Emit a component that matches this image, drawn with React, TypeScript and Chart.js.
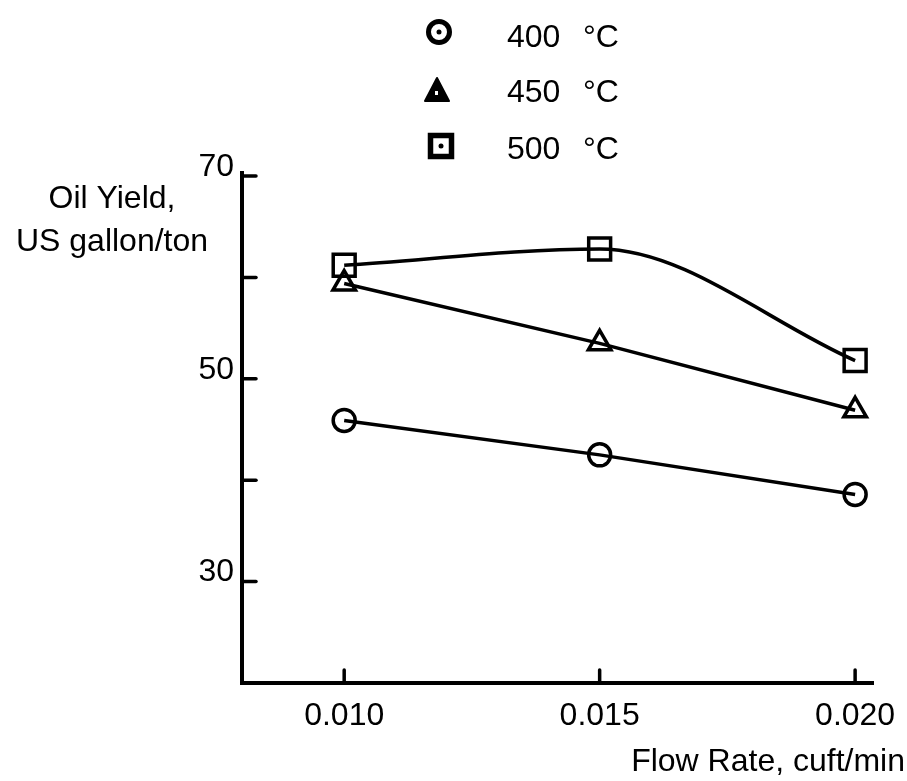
import React, { useEffect, useRef } from "react";
import { Chart, registerables } from "chart.js";

Chart.register(...registerables);

const flowRates = [0.01, 0.015, 0.02];
const yield400 = [45.9, 42.5, 38.6];
const yield450 = [59.4, 53.5, 46.9];
const yield500 = [61.2, 62.8, 51.8];
const seriesLabels = ["400", "450", "500"];
const xTickValues = [0.01, 0.015, 0.02];
const xTickLabels = ["0.010", "0.015", "0.020"];
const yTickValues = [30, 40, 50, 60, 70];
const yLabeledTicks = [30, 50, 70];
const xTitle = "Flow Rate, cuft/min";
const yTitleLines = ["Oil Yield,", "US gallon/ton"];

const FONT = "'Liberation Sans', Arial, sans-serif";
const FS = 32;
const INK = "#000";

const toPoints = (ys: number[]) => flowRates.map((x, i) => ({ x, y: ys[i] }));

const decorPlugin = {
  id: "decor",
  afterDraw(chart: any) {
    const { ctx, scales, chartArea } = chart;
    const xs = scales.x;
    const ys = scales.y;
    ctx.save();
    ctx.strokeStyle = INK;
    ctx.fillStyle = INK;
    ctx.lineWidth = 3.5;
    ctx.lineCap = "round";
    yTickValues.forEach((v) => {
      const py = ys.getPixelForValue(v);
      ctx.beginPath();
      ctx.moveTo(chartArea.left, py);
      ctx.lineTo(chartArea.left + 14, py);
      ctx.stroke();
    });
    xTickValues.forEach((v) => {
      const px = xs.getPixelForValue(v);
      ctx.beginPath();
      ctx.moveTo(px, chartArea.bottom);
      ctx.lineTo(px, chartArea.bottom - 13);
      ctx.stroke();
    });
    ctx.font = `${FS}px ${FONT}`;
    ctx.textAlign = "center";
    ctx.textBaseline = "alphabetic";
    ctx.fillText(yTitleLines[0], 112, 208);
    ctx.fillText(yTitleLines[1], 112, 251);
    ctx.textAlign = "right";
    ctx.fillText(xTitle, 905, 771);

    const rows = [
      { y: 32, x: 439 },
      { y: 90, x: 437 },
      { y: 146, x: 441 },
    ];
    const baselines = [47, 102, 159];
    rows.forEach((r, i) => {
      ctx.lineWidth = 5;
      ctx.lineCap = "butt";
      if (i === 0) {
        ctx.beginPath();
        ctx.arc(r.x, r.y, 10.5, 0, Math.PI * 2);
        ctx.stroke();
        ctx.beginPath();
        ctx.arc(r.x, r.y, 2.5, 0, Math.PI * 2);
        ctx.fill();
      } else if (i === 1) {
        ctx.beginPath();
        ctx.moveTo(r.x, r.y - 12);
        ctx.lineTo(r.x + 12, r.y + 11);
        ctx.lineTo(r.x - 12, r.y + 11);
        ctx.closePath();
        ctx.lineJoin = "round";
        ctx.lineWidth = 2;
        ctx.fill();
        ctx.stroke();
        ctx.fillStyle = "#fff";
        ctx.fillRect(r.x - 2, r.y + 1, 3, 4);
        ctx.fillStyle = INK;
      } else {
        ctx.lineJoin = "miter";
        ctx.lineWidth = 5.5;
        ctx.strokeRect(r.x - 10.5, r.y - 10.5, 21, 21);
        ctx.beginPath();
        ctx.arc(r.x, r.y, 2.5, 0, Math.PI * 2);
        ctx.fill();
      }
      ctx.font = `${FS}px ${FONT}`;
      ctx.textAlign = "left";
      ctx.textBaseline = "alphabetic";
      ctx.fillText(seriesLabels[i], 507, baselines[i]);
      ctx.fillText("°C", 583, baselines[i]);
    });
    ctx.restore();
  },
};

export default function App() {
  const ref = useRef<HTMLCanvasElement>(null);
  useEffect(() => {
    if (!ref.current) return;
    const common = {
      borderColor: INK,
      borderWidth: 3.5,
      pointBorderColor: INK,
      pointBackgroundColor: "rgba(0,0,0,0)",
      pointBorderWidth: 3.5,
      fill: false,
    };
    const chart = new Chart(ref.current, {
      type: "line",
      data: {
        datasets: [
          {
            ...common,
            label: seriesLabels[0],
            data: toPoints(yield400),
            pointStyle: "circle",
            pointRadius: 11,
            tension: 0,
          },
          {
            ...common,
            label: seriesLabels[1],
            data: toPoints(yield450),
            pointStyle: "triangle",
            pointRadius: 13,
            tension: 0,
          },
          {
            ...common,
            label: seriesLabels[2],
            data: toPoints(yield500),
            pointStyle: "rect",
            pointRadius: 15.5,
            cubicInterpolationMode: "monotone",
            tension: 0.4,
          },
        ],
      },
      options: {
        animation: false,
        responsive: false,
        layout: { padding: { top: 173, right: 34, left: 0, bottom: 0 } },
        plugins: {
          legend: { display: false },
          tooltip: { enabled: false },
        },
        scales: {
          x: {
            type: "linear",
            min: 0.008,
            max: 0.02035,
            afterFit: (s: any) => {
              s.height = 98;
              s.paddingLeft = 0;
              s.paddingRight = 0;
            },
            afterBuildTicks: (s: any) => {
              s.ticks = xTickValues.map((v) => ({ value: v }));
            },
            grid: { display: false, drawTicks: false },
            border: { display: true, width: 4, color: INK },
            ticks: {
              color: INK,
              font: { family: FONT, size: FS },
              padding: 14,
              maxRotation: 0,
              autoSkip: false,
              callback: (v: any) => {
                const i = xTickValues.findIndex((t) => Math.abs(t - v) < 1e-9);
                return i >= 0 ? xTickLabels[i] : "";
              },
            },
          },
          y: {
            type: "linear",
            min: 20,
            max: 70.3,
            afterFit: (s: any) => {
              s.width = 242;
              s.paddingTop = 0;
              s.paddingBottom = 0;
            },
            afterBuildTicks: (s: any) => {
              s.ticks = yTickValues.map((v) => ({ value: v }));
            },
            grid: { display: false, drawTicks: false },
            border: { display: true, width: 4, color: INK },
            ticks: {
              color: INK,
              font: { family: FONT, size: FS },
              padding: 8,
              labelOffset: -9,
              autoSkip: false,
              callback: (v: any) => (yLabeledTicks.includes(v) ? String(v) : ""),
            },
          },
        },
      },
      plugins: [decorPlugin],
    } as any);
    return () => chart.destroy();
  }, []);
  return (
    <div style={{ position: "absolute", left: 0, top: 0, width: 907, height: 781, background: "#fff" }}>
      <canvas ref={ref} width={907} height={781} style={{ display: "block" }} />
    </div>
  );
}
